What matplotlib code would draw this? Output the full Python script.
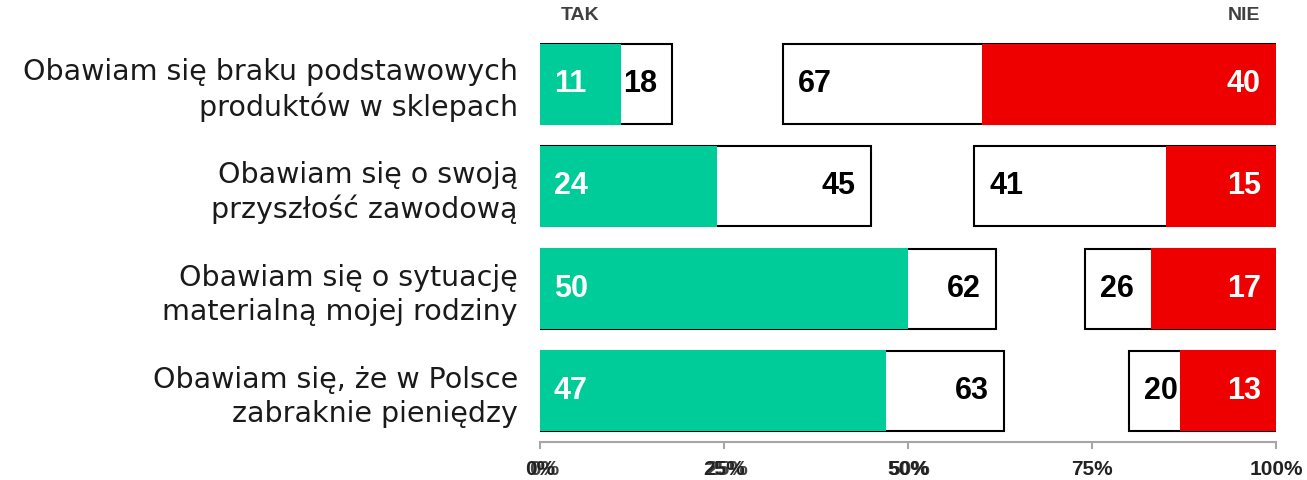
import numpy as np
import matplotlib
matplotlib.use("Agg")
import matplotlib.pyplot as plt
from matplotlib import transforms

categories = [
    "Obawiam się braku podstawowych\nproduktów w sklepach",
    "Obawiam się o swoją\nprzyszłość zawodową",
    "Obawiam się o sytuację\nmaterialną mojej rodziny",
    "Obawiam się, że w Polsce\nzabraknie pieniędzy",
]
tak_strong = [11, 24, 50, 47]   # zielone
tak_total = [18, 45, 62, 63]    # biale pole po lewej
nie_total = [67, 41, 26, 20]    # biale pole po prawej
nie_strong = [40, 15, 17, 13]   # czerwone
xticks = [0, 25, 50, 75, 100]
xtick_labels = ["0%", "25%", "50%", "75%", "100%"]

GREEN = "#00CC99"
RED = "#EE0000"
NUM_FONT = "Liberation Sans"
CAT_FONT = "DejaVu Sans"

fig = plt.figure(figsize=(13.07, 4.8), dpi=100)
ax = fig.add_axes([540 / 1307, 1 - 442 / 480, 736 / 1307, 409 / 480])

y = np.arange(len(categories))
h = 0.78
tak_total = np.array(tak_total)
nie_total = np.array(nie_total)
tak_strong = np.array(tak_strong)
nie_strong = np.array(nie_strong)

# biale ramki
ax.barh(y, tak_total, height=h, color="white", edgecolor="black", linewidth=1.5, zorder=1)
ax.barh(y, nie_total, left=100 - nie_total, height=h, color="white", edgecolor="black",
        linewidth=1.5, zorder=1)
# kolorowe slupki na wierzchu
ax.barh(y, tak_strong, height=h + 0.01, color=GREEN, zorder=2)
ax.barh(y, nie_strong, left=100 - nie_strong, height=h + 0.01, color=RED, zorder=2)

lab = dict(fontsize=22, fontweight="bold", family=NUM_FONT, va="center", zorder=3,
           textcoords="offset points")
for i in range(len(categories)):
    ax.annotate(str(tak_strong[i]), (0, y[i]), xytext=(10, 0), ha="left", color="white", **lab)
    ax.annotate(str(tak_total[i]), (tak_total[i], y[i]), xytext=(-11, 0), ha="right",
                color="black", **lab)
    ax.annotate(str(nie_total[i]), (100 - nie_total[i], y[i]), xytext=(11, 0), ha="left",
                color="black", **lab)
    ax.annotate(str(nie_strong[i]), (100, y[i]), xytext=(-11, 0), ha="right", color="white", **lab)

ax.set_xlim(0, 100)
ax.set_ylim(len(categories) - 0.5, -0.5)

ax.set_yticks(y)
ax.set_yticklabels(categories, fontsize=20.5, family=CAT_FONT, ha="right",
                   multialignment="right", linespacing=1.27, color="#1a1a1a")
ax.tick_params(axis="y", length=0, pad=16)

ax.set_xticks(xticks)
ax.set_xticklabels(xtick_labels, fontsize=15, fontweight="bold", family=NUM_FONT, color="#222222")
ax.tick_params(axis="x", direction="out", length=5, width=1.5, color="#A6A6A6", pad=8)

for s in ["top", "right", "left"]:
    ax.spines[s].set_visible(False)
ax.spines["bottom"].set_color("#A6A6A6")
ax.spines["bottom"].set_linewidth(1.5)

# podwojone etykiety osi jak w oryginale
for xt, xl, dx in zip(xticks[:3], xtick_labels[:3], [4, 3, 1]):
    off = transforms.ScaledTranslation(dx / 100, -13 / 72, fig.dpi_scale_trans)
    tr = transforms.blended_transform_factory(ax.transData, ax.transAxes) + off
    ax.text(xt, 0, xl, transform=tr, fontsize=15, fontweight="bold", family=NUM_FONT,
            color="#222222", ha="center", va="top", alpha=0.85)

fig.text(580 / 1307, 1 - 15 / 480, "TAK", fontsize=14, fontweight="bold", family=NUM_FONT,
         color="#404040", ha="center", va="center")
fig.text(1244 / 1307, 1 - 15 / 480, "NIE", fontsize=14, fontweight="bold", family=NUM_FONT,
         color="#404040", ha="center", va="center")

fig.savefig("out.png", dpi=100)
